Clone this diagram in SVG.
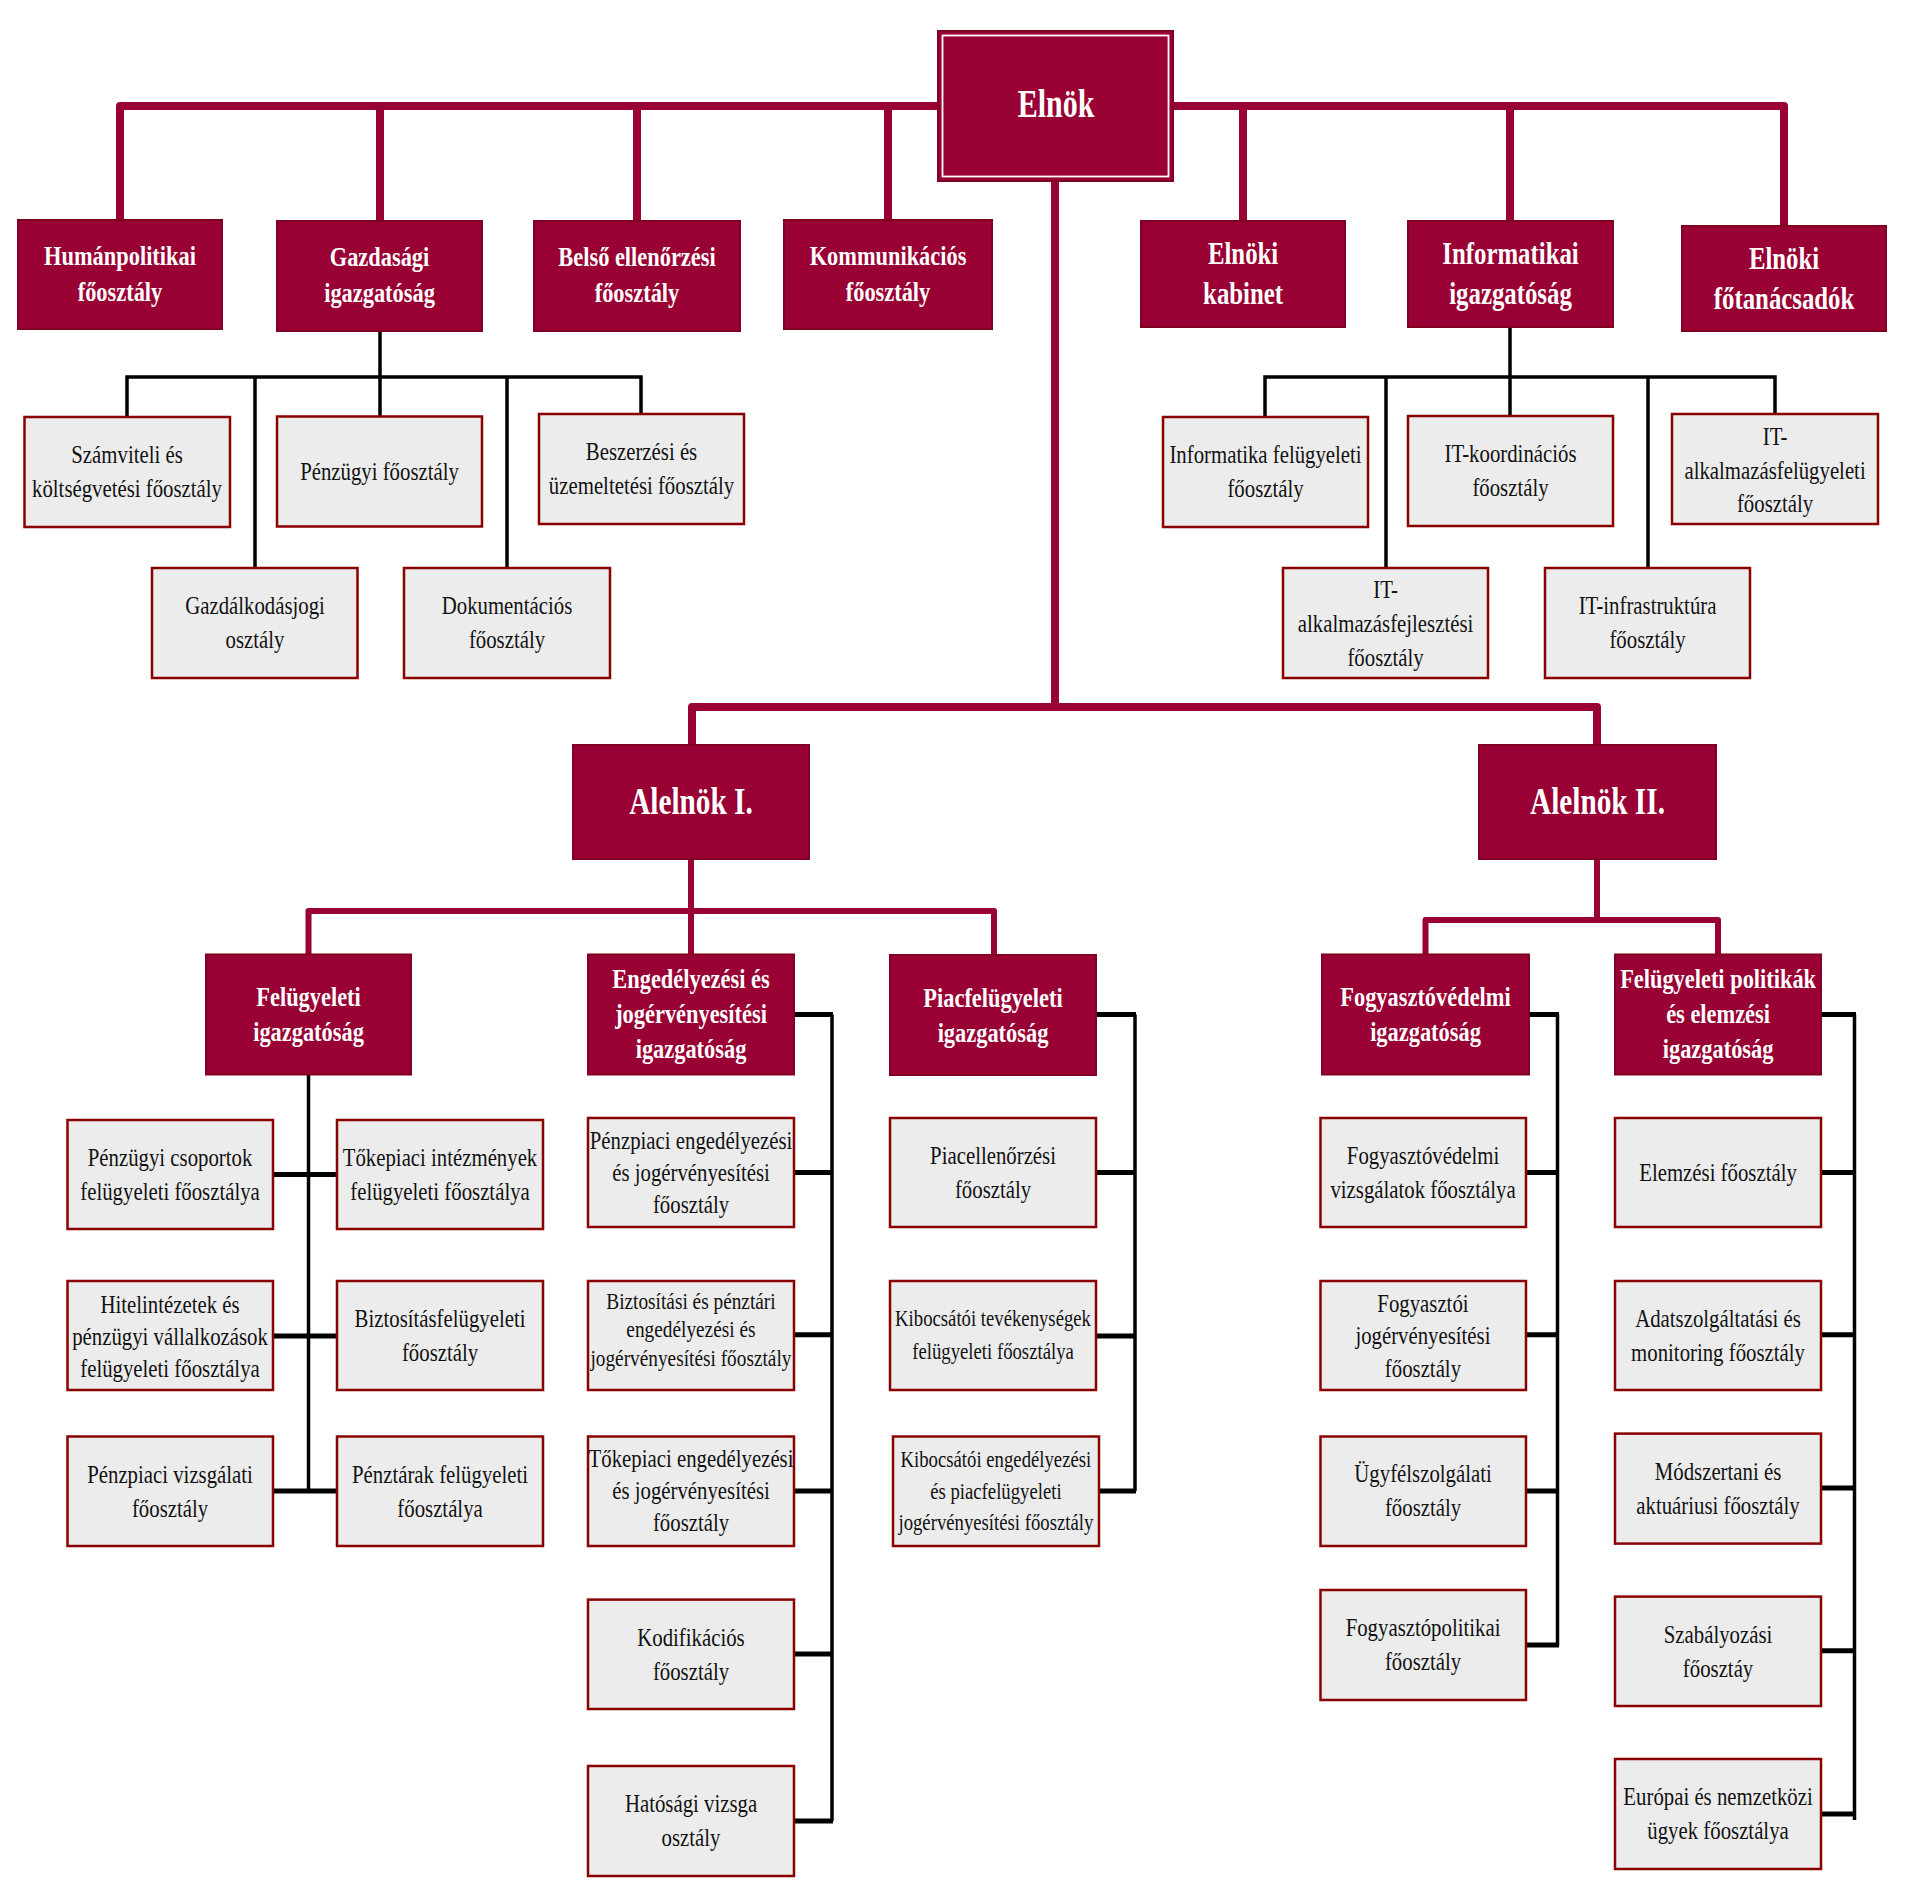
<svg xmlns="http://www.w3.org/2000/svg" width="1918" height="1885" viewBox="0 0 1918 1885">
<style>
.bg{fill:#ffffff}
.cr{fill:#990033;stroke:#800020;stroke-width:2}
.gr{fill:#ececec;stroke:#8b0000;stroke-width:2.5}
.ln1{fill:none;stroke:#990033;stroke-width:8;stroke-linejoin:round}
.ln2{fill:none;stroke:#990033;stroke-width:6;stroke-linejoin:round}
.bk{fill:none;stroke:#000000;stroke-width:3.5}
.bks{fill:none;stroke:#000000;stroke-width:5}
text{font-family:"Liberation Serif","Times New Roman",serif;text-anchor:middle;transform-box:fill-box;transform-origin:center}
.w{fill:#ffffff;font-weight:bold;font-size:28px;transform:scaleX(0.8)}
.wb{fill:#ffffff;font-weight:bold;font-size:31px;transform:scaleX(0.8)}
.wh{fill:#ffffff;font-weight:bold;font-size:38px;transform:scaleX(0.77)}
.k{fill:#111111;font-size:26px;transform:scaleX(0.8)}
.ks{fill:#111111;font-size:24px;transform:scaleX(0.78)}
.kx{fill:#111111;font-size:23px;transform:scaleX(0.84)}
</style>
<rect class="bg" x="0" y="0" width="1918" height="1885"/>

<g id="connectors">
<path class="ln1" d="M120 220V106H938 M380 106V221 M637 106V221 M888 106V220"/>
<path class="ln1" d="M1173 106H1784V226 M1243 106V221 M1510 106V221"/>
<path class="ln1" d="M1055 181V707 M692 745V707H1597V745"/>
<path class="ln2" d="M691 859V954 M308.5 954V911H994V955"/>
<path class="ln2" d="M1597 859V920 M1425.5 954V920H1718V954"/>
<path class="bk" d="M380 331V416 M127 417V377H641V414 M255 377V568 M507 377V568"/>
<path class="bk" d="M1510 327V416 M1265 417V377H1775V414 M1386 377V568 M1648 377V568"/>
<path class="bk" d="M308.5 1074V1491"/>
<path class="bks" d="M273 1174.5H337 M273 1336H337 M273 1491H337"/>
<path class="bk" d="M832 1014.6V1821"/>
<path class="bks" d="M794 1014.6H833 M794 1172.6H833 M794 1334.7H833 M794 1491H833 M794 1654H833 M794 1821H833"/>
<path class="bk" d="M1135 1014.6V1491"/>
<path class="bks" d="M1096 1014.6H1136 M1096 1172.6H1136 M1096 1336H1136 M1099 1491H1136"/>
<path class="bk" d="M1557.5 1014.6V1646"/>
<path class="bks" d="M1529 1014.6H1559 M1526 1172.6H1559 M1526 1334.7H1559 M1526 1491H1559 M1526 1645H1559"/>
<path class="bk" d="M1854.5 1014.6V1820"/>
<path class="bks" d="M1821 1014.6H1856 M1821 1172.6H1856 M1821 1334.7H1856 M1821 1488H1856 M1821 1650.7H1856 M1821 1814H1856"/>
</g>

<g id="elnok">
<rect class="cr" x="938" y="31" width="235" height="150"/>
<rect x="942.5" y="35.5" width="226" height="141" fill="none" stroke="#ffffff" stroke-width="1.8"/>
<text class="wh" style="font-size:40px;transform:scaleX(0.75)" x="1056" y="117">Elnök</text>
</g>

<g id="humanpolitikai"><rect class="cr" x="18" y="220" width="204" height="109"/>
<text class="w"><tspan x="120" y="265">Humánpolitikai</tspan><tspan x="120" y="301">főosztály</tspan></text></g>
<g id="gazdasagi"><rect class="cr" x="277" y="221" width="205" height="110"/>
<text class="w"><tspan x="379.5" y="266">Gazdasági</tspan><tspan x="379.5" y="302">igazgatóság</tspan></text></g>
<g id="belso"><rect class="cr" x="534" y="221" width="206" height="110"/>
<text class="w"><tspan x="637" y="266">Belső ellenőrzési</tspan><tspan x="637" y="302">főosztály</tspan></text></g>
<g id="kommunikacios"><rect class="cr" x="784" y="220" width="208" height="109"/>
<text class="w"><tspan x="888" y="265">Kommunikációs</tspan><tspan x="888" y="301">főosztály</tspan></text></g>
<g id="kabinet"><rect class="cr" x="1141" y="221" width="204" height="106"/>
<text class="wb"><tspan x="1243" y="264.5">Elnöki</tspan><tspan x="1243" y="304.5">kabinet</tspan></text></g>
<g id="informatikai"><rect class="cr" x="1408" y="221" width="205" height="106"/>
<text class="wb"><tspan x="1510.5" y="264.5">Informatikai</tspan><tspan x="1510.5" y="304.5">igazgatóság</tspan></text></g>
<g id="fotanacsadok"><rect class="cr" x="1682" y="226" width="204" height="105"/>
<text class="wb"><tspan x="1784" y="269">Elnöki</tspan><tspan x="1784" y="309">főtanácsadók</tspan></text></g>

<g id="szamviteli"><rect class="gr" x="24.5" y="417" width="205.5" height="110"/>
<text class="k"><tspan x="127" y="463.5">Számviteli és</tspan><tspan x="127" y="497.5">költségvetési főosztály</tspan></text></g>
<g id="penzugyi"><rect class="gr" x="277" y="416.5" width="205" height="110"/>
<text class="k" x="379.5" y="480">Pénzügyi főosztály</text></g>
<g id="beszerzesi"><rect class="gr" x="539" y="414" width="205" height="110"/>
<text class="k"><tspan x="641.5" y="460.5">Beszerzési és</tspan><tspan x="641.5" y="494.5">üzemeltetési főosztály</tspan></text></g>
<g id="gazdalkodasjogi"><rect class="gr" x="152" y="568" width="205.5" height="110"/>
<text class="k"><tspan x="255" y="614.5">Gazdálkodásjogi</tspan><tspan x="255" y="648.5">osztály</tspan></text></g>
<g id="dokumentacios"><rect class="gr" x="404" y="568" width="206" height="110"/>
<text class="k"><tspan x="507" y="614.5">Dokumentációs</tspan><tspan x="507" y="648.5">főosztály</tspan></text></g>

<g id="infofelugyeleti"><rect class="gr" x="1163" y="417" width="205" height="110"/>
<text class="k"><tspan x="1265.5" y="463.5">Informatika felügyeleti</tspan><tspan x="1265.5" y="497.5">főosztály</tspan></text></g>
<g id="itkoordinacios"><rect class="gr" x="1408" y="416" width="205" height="110"/>
<text class="k"><tspan x="1510.5" y="462.5">IT-koordinációs</tspan><tspan x="1510.5" y="496.5">főosztály</tspan></text></g>
<g id="italkfelugyeleti"><rect class="gr" x="1672" y="414" width="206" height="110"/>
<text class="k"><tspan x="1775" y="445">IT-</tspan><tspan x="1775" y="479">alkalmazásfelügyeleti</tspan><tspan x="1775" y="512">főosztály</tspan></text></g>
<g id="italkfejlesztesi"><rect class="gr" x="1283" y="568" width="205" height="110"/>
<text class="k"><tspan x="1385.5" y="598">IT-</tspan><tspan x="1385.5" y="632">alkalmazásfejlesztési</tspan><tspan x="1385.5" y="666">főosztály</tspan></text></g>
<g id="itinfrastruktura"><rect class="gr" x="1545" y="568" width="205" height="110"/>
<text class="k"><tspan x="1647.5" y="614.5">IT-infrastruktúra</tspan><tspan x="1647.5" y="648.5">főosztály</tspan></text></g>

<g id="alelnok1"><rect class="cr" x="573" y="745" width="236" height="114"/>
<text class="wh" x="691" y="814">Alelnök I.</text></g>
<g id="alelnok2"><rect class="cr" x="1479" y="745" width="237" height="114"/>
<text class="wh" x="1597.5" y="814">Alelnök II.</text></g>

<g id="felugyeletiig"><rect class="cr" x="206" y="954.5" width="205" height="120"/>
<text class="w"><tspan x="308.5" y="1006">Felügyeleti</tspan><tspan x="308.5" y="1041">igazgatóság</tspan></text></g>
<g id="engedelyezesiig"><rect class="cr" x="588" y="954.5" width="206" height="120"/>
<text class="w"><tspan x="691" y="988.5">Engedélyezési és</tspan><tspan x="691" y="1023.5">jogérvényesítési</tspan><tspan x="691" y="1058.5">igazgatóság</tspan></text></g>
<g id="piacfelugyeletiig"><rect class="cr" x="890" y="955" width="206" height="120"/>
<text class="w"><tspan x="993" y="1007">Piacfelügyeleti</tspan><tspan x="993" y="1042">igazgatóság</tspan></text></g>
<g id="fogyasztovedelmiig"><rect class="cr" x="1322" y="954.5" width="207" height="120"/>
<text class="w"><tspan x="1425.5" y="1006">Fogyasztóvédelmi</tspan><tspan x="1425.5" y="1041">igazgatóság</tspan></text></g>
<g id="felpolitikakig"><rect class="cr" x="1615" y="954.5" width="206" height="120"/>
<text class="w"><tspan x="1718" y="988.5">Felügyeleti politikák</tspan><tspan x="1718" y="1023.5">és elemzési</tspan><tspan x="1718" y="1058.5">igazgatóság</tspan></text></g>

<g id="penzugyicsoportok"><rect class="gr" x="67.5" y="1120" width="205.5" height="109"/>
<text class="k"><tspan x="170" y="1166">Pénzügyi csoportok</tspan><tspan x="170" y="1200">felügyeleti főosztálya</tspan></text></g>
<g id="tokepiaciint"><rect class="gr" x="337" y="1120" width="206" height="109"/>
<text class="k"><tspan x="440" y="1166">Tőkepiaci intézmények</tspan><tspan x="440" y="1200">felügyeleti főosztálya</tspan></text></g>
<g id="hitelintezetek"><rect class="gr" x="67.5" y="1281" width="205.5" height="109"/>
<text class="k"><tspan x="170" y="1313">Hitelintézetek és</tspan><tspan x="170" y="1345">pénzügyi vállalkozások</tspan><tspan x="170" y="1377">felügyeleti főosztálya</tspan></text></g>
<g id="biztositasfel"><rect class="gr" x="337" y="1281" width="206" height="109"/>
<text class="k"><tspan x="440" y="1327">Biztosításfelügyeleti</tspan><tspan x="440" y="1361">főosztály</tspan></text></g>
<g id="penzpiacivizsg"><rect class="gr" x="67.5" y="1436.5" width="205.5" height="109.5"/>
<text class="k"><tspan x="170" y="1483">Pénzpiaci vizsgálati</tspan><tspan x="170" y="1517">főosztály</tspan></text></g>
<g id="penztarak"><rect class="gr" x="337" y="1436.5" width="206" height="109.5"/>
<text class="k"><tspan x="440" y="1483">Pénztárak felügyeleti</tspan><tspan x="440" y="1517">főosztálya</tspan></text></g>

<g id="penzpiacieng"><rect class="gr" x="588" y="1118" width="206" height="109"/>
<text class="k"><tspan x="691" y="1149">Pénzpiaci engedélyezési</tspan><tspan x="691" y="1181">és jogérvényesítési</tspan><tspan x="691" y="1213">főosztály</tspan></text></g>
<g id="biztpenztari"><rect class="gr" x="588" y="1281" width="206" height="109"/>
<text class="kx"><tspan x="691" y="1309">Biztosítási és pénztári</tspan><tspan x="691" y="1337">engedélyezési és</tspan><tspan x="691" y="1366">jogérvényesítési főosztály</tspan></text></g>
<g id="tokepiacieng"><rect class="gr" x="588" y="1436.5" width="206" height="109.5"/>
<text class="k"><tspan x="691" y="1467.5">Tőkepiaci engedélyezési</tspan><tspan x="691" y="1499.5">és jogérvényesítési</tspan><tspan x="691" y="1531.5">főosztály</tspan></text></g>
<g id="kodifikacios"><rect class="gr" x="588" y="1599.6" width="206" height="109.4"/>
<text class="k"><tspan x="691" y="1646">Kodifikációs</tspan><tspan x="691" y="1680">főosztály</tspan></text></g>
<g id="hatosagi"><rect class="gr" x="588" y="1766" width="206" height="110"/>
<text class="k"><tspan x="691" y="1812.5">Hatósági vizsga</tspan><tspan x="691" y="1846.5">osztály</tspan></text></g>

<g id="piacellenorzesi"><rect class="gr" x="890" y="1118" width="206" height="109"/>
<text class="k"><tspan x="993" y="1164">Piacellenőrzési</tspan><tspan x="993" y="1198">főosztály</tspan></text></g>
<g id="kibocsatoitev"><rect class="gr" x="890" y="1281" width="206" height="109"/>
<text class="ks"><tspan x="993" y="1326">Kibocsátói tevékenységek</tspan><tspan x="993" y="1359">felügyeleti főosztálya</tspan></text></g>
<g id="kibocsatoieng"><rect class="gr" x="893" y="1436.5" width="206" height="109.5"/>
<text class="ks"><tspan x="996" y="1467">Kibocsátói engedélyezési</tspan><tspan x="996" y="1499">és piacfelügyeleti</tspan><tspan x="996" y="1530">jogérvényesítési főosztály</tspan></text></g>

<g id="fogyvizsgalatok"><rect class="gr" x="1320.5" y="1118" width="205.5" height="109"/>
<text class="k"><tspan x="1423" y="1164">Fogyasztóvédelmi</tspan><tspan x="1423" y="1198">vizsgálatok főosztálya</tspan></text></g>
<g id="fogyjog"><rect class="gr" x="1320.5" y="1281" width="205.5" height="109"/>
<text class="k"><tspan x="1423" y="1312">Fogyasztói</tspan><tspan x="1423" y="1344.5">jogérvényesítési</tspan><tspan x="1423" y="1377">főosztály</tspan></text></g>
<g id="ugyfelszolgalati"><rect class="gr" x="1320.5" y="1436.5" width="205.5" height="109.5"/>
<text class="k"><tspan x="1423" y="1482.5">Ügyfélszolgálati</tspan><tspan x="1423" y="1516.5">főosztály</tspan></text></g>
<g id="fogypolitikai"><rect class="gr" x="1320.5" y="1590" width="205.5" height="110"/>
<text class="k"><tspan x="1423" y="1636.5">Fogyasztópolitikai</tspan><tspan x="1423" y="1670.5">főosztály</tspan></text></g>

<g id="elemzesi"><rect class="gr" x="1615" y="1118" width="206" height="109"/>
<text class="k" x="1718" y="1181">Elemzési főosztály</text></g>
<g id="adatszolg"><rect class="gr" x="1615" y="1281" width="206" height="109"/>
<text class="k"><tspan x="1718" y="1327">Adatszolgáltatási és</tspan><tspan x="1718" y="1361">monitoring főosztály</tspan></text></g>
<g id="modszertani"><rect class="gr" x="1615" y="1433.6" width="206" height="110"/>
<text class="k"><tspan x="1718" y="1480">Módszertani és</tspan><tspan x="1718" y="1514">aktuáriusi főosztály</tspan></text></g>
<g id="szabalyozasi"><rect class="gr" x="1615" y="1596.6" width="206" height="109.4"/>
<text class="k"><tspan x="1718" y="1643">Szabályozási</tspan><tspan x="1718" y="1677">főosztáy</tspan></text></g>
<g id="europai"><rect class="gr" x="1615" y="1759" width="206" height="110"/>
<text class="k"><tspan x="1718" y="1805.5">Európai és nemzetközi</tspan><tspan x="1718" y="1839.5">ügyek főosztálya</tspan></text></g>
</svg>
